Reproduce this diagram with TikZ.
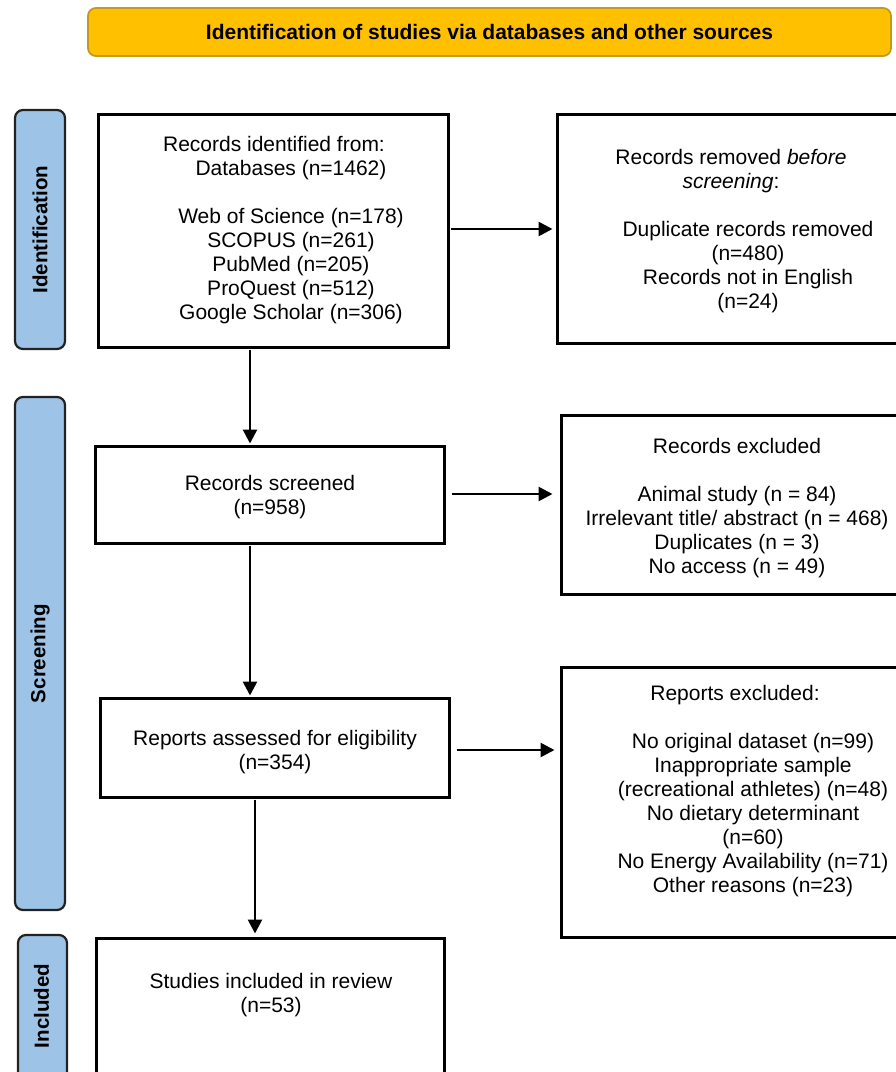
\documentclass[tikz,border=0pt]{standalone}
\usepackage{fontspec}
\setmainfont{Liberation Sans}
\usetikzlibrary{arrows.meta}
\definecolor{gold}{HTML}{FFC000}
\definecolor{golddark}{HTML}{C49A1C}
\definecolor{barblue}{HTML}{9DC3E6}
\definecolor{bardark}{HTML}{222222}
\begin{document}
\begin{tikzpicture}[x=1pt,y=-1pt,
  boxst/.style={draw=black,line width=3pt,inner sep=0pt,fill=none},
  barst/.style={draw=bardark,fill=barblue,line width=2.2pt,rounded corners=8pt,inner sep=0pt},
  bartext/.style={rotate=90,font=\bfseries\fontsize{20.5}{24}\selectfont,inner sep=0pt},
  banner/.style={draw=golddark,fill=gold,line width=1.8pt,rounded corners=8pt,inner sep=0pt,
    font=\bfseries\fontsize{21}{24}\selectfont},
  txt/.style={align=center,font=\fontsize{21}{24}\selectfont,inner sep=0pt},
  arr/.style={line width=2.6pt,-{Triangle[length=14pt,width=14pt]}}]
\useasboundingbox (0,0) rectangle (896,1072);
\clip (0,0) rectangle (896,1072);
\fill[white] (0,0) rectangle (896,1072);

% banner
\node[banner,minimum width=803pt,minimum height=48pt] (banner) at (489.5,32)
  {Identification of studies via databases and other sources};

% side bars
\node[barst,minimum width=50pt,minimum height=239pt] (idbar) at (40,229.5) {};
\node[bartext] (idlab) at (idbar.center) {Identification};
\node[barst,minimum width=50pt,minimum height=513pt] (scrbar) at (40,653.5) {};
\node[bartext] (scrlab) at (scrbar.center) {Screening};
\node[barst,minimum width=49pt,minimum height=145pt] (incbar) at (42.5,1007.5) {};
\node[bartext] (inclab) at (41.5,1006) {Included};

% boxes
\node[boxst,minimum width=350pt,minimum height=233pt] (box1) at (273,230.5) {};
\node[txt] (t1) at (291,230) {\mbox{Records identified from:\hspace{34pt}}\\
  Databases (n=1462)\\[24pt]
  Web of Science (n=178)\\
  SCOPUS (n=261)\\
  PubMed (n=205)\\
  ProQuest (n=512)\\
  Google Scholar (n=306)};

\node[boxst,minimum width=388pt,minimum height=229pt] (removed) at (751,228.5) {};
\node[txt] (t2) at (748,231) {\mbox{Records removed \textit{before}\hspace{34pt}}\\
  \mbox{\textit{screening}:\hspace{34pt}}\\[24pt]
  Duplicate records removed\\
  (n=480)\\
  Records not in English\\
  (n=24)};

\node[boxst,minimum width=349pt,minimum height=97pt] (screened) at (269.5,494.5) {};
\node[txt] (t3) at (270,497) {Records screened\\(n=958)};

\node[boxst,minimum width=384pt,minimum height=179pt] (excluded) at (753,504.5) {};
\node[txt] (t4) at (737,508) {Records excluded\\[24pt]
  Animal study (n = 84)\\
  Irrelevant title/ abstract (n = 468)\\
  Duplicates (n = 3)\\
  No access (n = 49)};

\node[boxst,minimum width=349pt,minimum height=99pt] (assessed) at (274.5,747.5) {};
\node[txt] (t5) at (275,752) {Reports assessed for eligibility\\(n=354)};

\node[boxst,minimum width=384pt,minimum height=270pt] (repexcl) at (753,802) {};
\node[txt] (t6) at (753,791.5) {\mbox{Reports excluded:\hspace{36pt}}\\[24pt]
  No original dataset (n=99)\\
  Inappropriate sample\\
  (recreational athletes) (n=48)\\
  No dietary determinant\\
  (n=60)\\
  No Energy Availability (n=71)\\
  Other reasons (n=23)};

\node[boxst,minimum width=348pt,minimum height=142pt] (studies) at (270,1009) {};
\node[txt] (t7) at (271,995) {Studies included in review\\(n=53)};

% arrows
\coordinate (va) at (250,0);
\coordinate (vb) at (255,0);
\draw[arr,shorten <=1pt,shorten >=3pt] (box1.east |- 0,229) -- (removed.west |- 0,229);
\draw[arr,shorten <=6pt,shorten >=7pt] (screened.east |- 0,494) -- (excluded.west |- 0,494);
\draw[arr,shorten <=6pt,shorten >=5pt] (assessed.east |- 0,750) -- (repexcl.west |- 0,750);
\draw[arr,shorten <=1pt,shorten >=1pt] (box1.south -| va) -- (screened.north -| va);
\draw[arr,shorten <=1pt,shorten >=1pt] (screened.south -| va) -- (assessed.north -| va);
\draw[arr,shorten <=1pt,shorten >=3pt] (assessed.south -| vb) -- (studies.north -| vb);
\end{tikzpicture}
\end{document}
